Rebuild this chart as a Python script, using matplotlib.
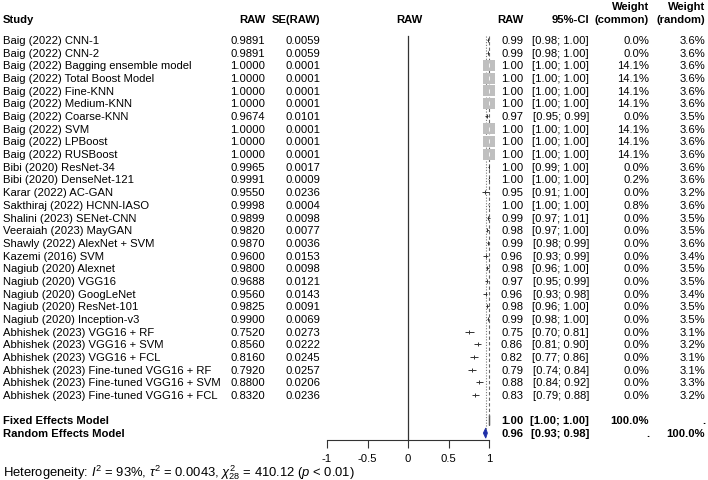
import matplotlib
matplotlib.use("Agg")
import matplotlib.pyplot as plt
from matplotlib.patches import Polygon

plt.rcParams['font.family'] = ['Liberation Sans', 'DejaVu Sans']
plt.rcParams['mathtext.fontset'] = 'custom'
plt.rcParams['mathtext.rm'] = 'Liberation Sans'
plt.rcParams['mathtext.it'] = 'Liberation Sans:italic'

# --- data ---
studies = [
    "Baig (2022) CNN-1", "Baig (2022) CNN-2", "Baig (2022) Bagging ensemble model",
    "Baig (2022) Total Boost Model", "Baig (2022) Fine-KNN", "Baig (2022) Medium-KNN",
    "Baig (2022) Coarse-KNN", "Baig (2022) SVM", "Baig (2022) LPBoost",
    "Baig (2022) RUSBoost", "Bibi (2020) ResNet-34", "Bibi (2020) DenseNet-121",
    "Karar (2022) AC-GAN", "Sakthiraj (2022) HCNN-IASO", "Shalini (2023) SENet-CNN",
    "Veeraiah (2023) MayGAN", "Shawly (2022) AlexNet + SVM", "Kazemi (2016) SVM",
    "Nagiub (2020) Alexnet", "Nagiub (2020) VGG16", "Nagiub (2020) GoogLeNet",
    "Nagiub (2020) ResNet-101", "Nagiub (2020) Inception-v3",
    "Abhishek (2023) VGG16 + RF", "Abhishek (2023) VGG16 + SVM",
    "Abhishek (2023) VGG16 + FCL", "Abhishek (2023) Fine-tuned VGG16 + RF",
    "Abhishek (2023) Fine-tuned VGG16 + SVM", "Abhishek (2023) Fine-tuned VGG16 + FCL",
]
raw = ["0.9891", "0.9891", "1.0000", "1.0000", "1.0000", "1.0000", "0.9674", "1.0000",
       "1.0000", "1.0000", "0.9965", "0.9991", "0.9550", "0.9998", "0.9899", "0.9820",
       "0.9870", "0.9600", "0.9800", "0.9688", "0.9560", "0.9825", "0.9900", "0.7520",
       "0.8560", "0.8160", "0.7920", "0.8800", "0.8320"]
se = ["0.0059", "0.0059", "0.0001", "0.0001", "0.0001", "0.0001", "0.0101", "0.0001",
      "0.0001", "0.0001", "0.0017", "0.0009", "0.0236", "0.0004", "0.0098", "0.0077",
      "0.0036", "0.0153", "0.0098", "0.0121", "0.0143", "0.0091", "0.0069", "0.0273",
      "0.0222", "0.0245", "0.0257", "0.0206", "0.0236"]
est = [0.99, 0.99, 1.00, 1.00, 1.00, 1.00, 0.97, 1.00, 1.00, 1.00, 1.00, 1.00, 0.95, 1.00,
       0.99, 0.98, 0.99, 0.96, 0.98, 0.97, 0.96, 0.98, 0.99, 0.75, 0.86, 0.82, 0.79, 0.88, 0.83]
lower = [0.98, 0.98, 1.00, 1.00, 1.00, 1.00, 0.95, 1.00, 1.00, 1.00, 0.99, 1.00, 0.91, 1.00,
         0.97, 0.97, 0.98, 0.93, 0.96, 0.95, 0.93, 0.96, 0.98, 0.70, 0.81, 0.77, 0.74, 0.84, 0.79]
upper = [1.00, 1.00, 1.00, 1.00, 1.00, 1.00, 0.99, 1.00, 1.00, 1.00, 1.00, 1.00, 1.00, 1.00,
         1.01, 1.00, 0.99, 0.99, 1.00, 0.99, 0.98, 1.00, 1.00, 0.81, 0.90, 0.86, 0.84, 0.92, 0.88]
w_common = [0.0, 0.0, 14.1, 14.1, 14.1, 14.1, 0.0, 14.1, 14.1, 14.1, 0.0, 0.2, 0.0, 0.8,
            0.0, 0.0, 0.0, 0.0, 0.0, 0.0, 0.0, 0.0, 0.0, 0.0, 0.0, 0.0, 0.0, 0.0, 0.0]
w_random = [3.6, 3.6, 3.6, 3.6, 3.6, 3.6, 3.5, 3.6, 3.6, 3.6, 3.6, 3.6, 3.2, 3.6, 3.5,
            3.5, 3.6, 3.4, 3.5, 3.5, 3.4, 3.5, 3.5, 3.1, 3.2, 3.1, 3.1, 3.3, 3.2]

fixed_est, fixed_lo, fixed_hi = 1.00, 1.00, 1.00
random_est, random_lo, random_hi = 0.96, 0.93, 0.98
heterogeneity = (r"Heterogeneity: $I^2$ = 93%, $\tau^2$ = 0.0043, "
                 r"$\chi^2_{28}$ = 410.12 ($p$ < 0.01)")

# --- layout ---
W, H = 708, 481
ROW0, ROWH = 41.0, 12.68          # pixel y of first row, row height
ylim = ((H - ROW0) / ROWH, -ROW0 / ROWH)
n = len(studies)
rows = list(range(n))
fixed_row, random_row = n + 1, n + 2
axis_row = 31.55
FS = 8.15

fig = plt.figure(figsize=(W / 100, H / 100), dpi=100)
tx = fig.add_axes([0, 0, 1, 1])
tx.set_xlim(0, W)
tx.set_ylim(*ylim)
tx.axis('off')

# column anchors (pixels) and alignment
col_study, col_raw, col_se = 3, 265, 320
col_est, col_ci, col_wc, col_wr = 523, 589, 649, 705

hdr1, hdr2 = -2.68, -1.66
bold = dict(fontweight='bold', fontsize=FS, va='center')
tx.text(col_study, hdr2, "Study", ha='left', **bold)
tx.text(col_raw, hdr2, "RAW", ha='right', **bold)
tx.text(col_se, hdr2, "SE(RAW)", ha='right', **bold)
tx.text(409, hdr2, "RAW", ha='center', **bold)
tx.text(col_est, hdr2, "RAW", ha='right', **bold)
tx.text(col_ci, hdr2, "95%-CI", ha='right', **bold)
tx.text(col_wc, hdr1, "Weight", ha='right', **bold)
tx.text(col_wc, hdr2, "(common)", ha='right', **bold)
tx.text(col_wr, hdr1, "Weight", ha='right', **bold)
tx.text(col_wr, hdr2, "(random)", ha='right', **bold)

norm = dict(fontsize=FS, va='center')
for i in rows:
    tx.text(col_study, i, studies[i], ha='left', **norm)
    tx.text(col_raw, i, raw[i], ha='right', **norm)
    tx.text(col_se, i, se[i], ha='right', **norm)
    tx.text(col_est, i, f"{est[i]:.2f}", ha='right', **norm)
    tx.text(col_ci, i, f"[{lower[i]:.2f}; {upper[i]:.2f}]", ha='right', **norm)
    tx.text(col_wc, i, f"{w_common[i]:.1f}%", ha='right', **norm)
    tx.text(col_wr, i, f"{w_random[i]:.1f}%", ha='right', **norm)

tx.text(col_study, fixed_row, "Fixed Effects Model", ha='left', **bold)
tx.text(col_study, random_row, "Random Effects Model", ha='left', **bold)
tx.text(col_est, fixed_row, f"{fixed_est:.2f}", ha='right', **bold)
tx.text(col_ci, fixed_row, f"[{fixed_lo:.2f}; {fixed_hi:.2f}]", ha='right', **bold)
tx.text(col_wc, fixed_row, "100.0%", ha='right', **bold)
tx.text(col_wr, fixed_row, ".", ha='right', **bold)
tx.text(col_est, random_row, f"{random_est:.2f}", ha='right', **bold)
tx.text(col_ci, random_row, f"[{random_lo:.2f}; {random_hi:.2f}]", ha='right', **bold)
tx.text(col_wc, random_row, ".", ha='right', **bold)
tx.text(col_wr, random_row, "100.0%", ha='right', **bold)

tx.text(col_study, 34.05, heterogeneity, ha='left', fontsize=9.4, va='center')

# --- forest panel ---
ax = fig.add_axes([327 / W, 0, 162 / W, 1], facecolor='none')
ax.set_xlim(-1, 1)
ax.set_ylim(*ylim)
for s in ['top', 'right', 'left']:
    ax.spines[s].set_visible(False)
ax.spines['bottom'].set_position(('data', axis_row))
ax.spines['bottom'].set_linewidth(0.8)
ax.spines['bottom'].set_color('#333333')
ax.set_yticks([])
ax.set_xticks([-1, -0.5, 0, 0.5, 1])
ax.set_xticklabels(["-1", "-0.5", "0", "0.5", "1"])
ax.tick_params(axis='x', direction='out', length=5.5, width=0.8, pad=3.5,
               labelsize=FS, colors='#333333', labelcolor='black')

top = -0.3
ax.plot([0, 0], [top, axis_row], color='#333333', lw=0.9, clip_on=False)
ax.plot([fixed_est, fixed_est], [top, fixed_row - 0.35], color='#666666', lw=0.8,
        ls=(0, (3, 2)), clip_on=False)
ax.plot([random_est, random_est], [top, random_row - 0.35], color='#777777', lw=0.8,
        ls=(0, (1, 1.5)), clip_on=False)

sizes = [63 * w / 14.1 for w in w_common]
ax.scatter(est, rows, s=sizes, marker='s', color='#bfbfbf', linewidths=0,
           zorder=3, clip_on=False)
ax.hlines(rows, lower, upper, color='#333333', lw=0.7, zorder=2, clip_on=False)
ax.scatter(est, rows, s=9, marker='|', color='#333333', linewidths=0.7,
           zorder=2, clip_on=False)
big = [i for i in rows if w_common[i] > 5]
ax.scatter([est[i] for i in big], big, s=6, marker='|', color='white',
           linewidths=0.6, zorder=4, clip_on=False)

dh = 0.4
ax.add_patch(Polygon([(fixed_lo, fixed_row), (fixed_est, fixed_row - dh),
                      (fixed_hi, fixed_row), (fixed_est, fixed_row + dh)],
                     closed=True, facecolor='#808080', edgecolor='#555555',
                     lw=0.9, clip_on=False))
ax.add_patch(Polygon([(random_lo, random_row), (random_est, random_row - dh),
                      (random_hi, random_row), (random_est, random_row + dh)],
                     closed=True, facecolor='#1f2fa8', edgecolor='#1f2fa8',
                     lw=0.6, clip_on=False))

fig.savefig("out.png", dpi=100)
